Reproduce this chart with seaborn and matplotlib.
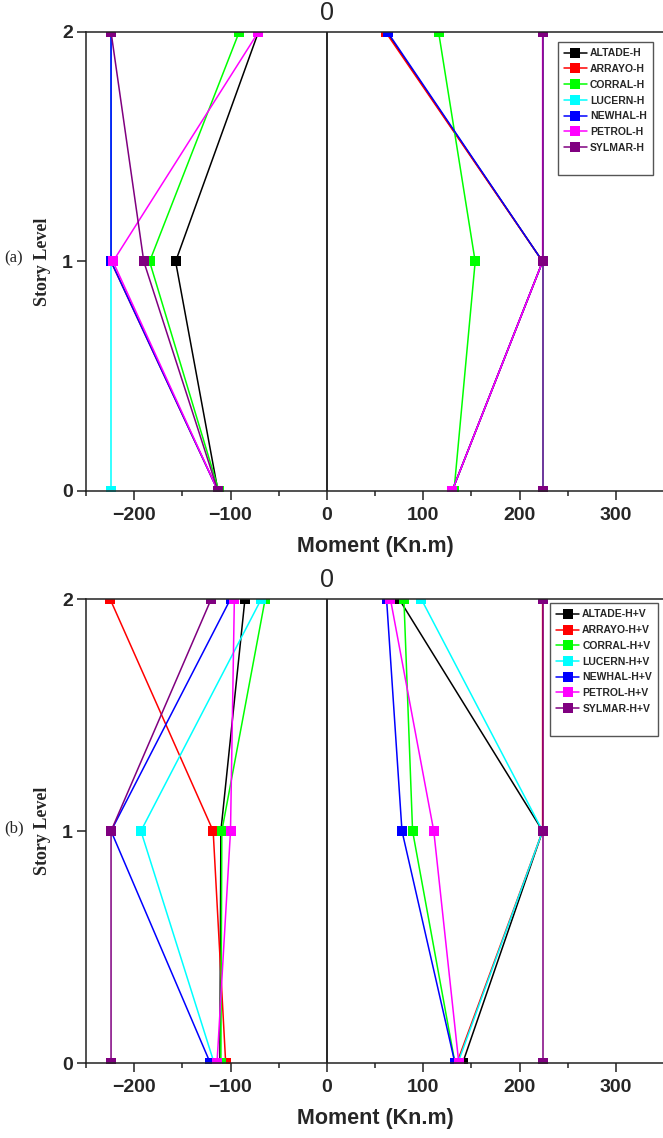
"""
楼层弯矩包络图：(a) 水平地震 H，(b) 水平+竖向地震 H+V
"""

import numpy as np
import pandas as pd
import matplotlib
matplotlib.use('Agg')
import matplotlib.pyplot as plt
from matplotlib.lines import Line2D
import seaborn as sns

sns.set_style('ticks')
plt.rcParams['font.family'] = ['Liberation Sans', 'DejaVu Sans']

LEVELS = [0, 1, 2]
RECORDS = ['ALTADE', 'ARRAYO', 'CORRAL', 'LUCERN', 'NEWHAL', 'PETROL', 'SYLMAR']
COLORS = ['#000000', '#ff0000', '#00ff00', '#00ffff', '#0000ff', '#ff00ff', '#800080']

# 负弯矩 / 正弯矩，每行对应 RECORDS，列为楼层 0,1,2
H_NEG = [[-113, -157, -71],
         [-113, -224, -224],
         [-112, -184, -91],
         [-224, -224, -224],
         [-113, -224, -224],
         [-113, -222, -71],
         [-113, -190, -224]]
H_POS = [[130, 224, 62],
         [130, 224, 61],
         [132, 154, 116],
         [224, 224, 224],
         [130, 224, 63],
         [130, 224, 224],
         [224, 224, 224]]

HV_NEG = [[-111, -110, -85],
          [-105, -118, -225],
          [-110, -109, -64],
          [-117, -193, -68],
          [-121, -224, -100],
          [-114, -100, -96],
          [-224, -224, -120]]
HV_POS = [[141, 224, 75],
          [135, 224, 224],
          [133, 89, 80],
          [136, 224, 98],
          [133, 78, 62],
          [137, 111, 66],
          [224, 224, 224]]


def draw_panel(ax, neg, pos, suffix, tag, tag_y, anchor):
    names = [r + suffix for r in RECORDS]
    rows = []
    for name, n, p in zip(names, neg, pos):
        for lv, v in zip(LEVELS, n):
            rows.append((name, 'neg', lv, v))
        for lv, v in zip(LEVELS, p):
            rows.append((name, 'pos', lv, v))
    df = pd.DataFrame(rows, columns=['record', 'side', 'level', 'moment'])

    ax.axvline(0, color='black', lw=1.2, zorder=1)
    sns.lineplot(data=df, x='moment', y='level', hue='record',
                 hue_order=names, palette=COLORS, units='side',
                 estimator=None, sort=False, marker='s', markersize=6.5,
                 markeredgewidth=0, linewidth=1.1, legend=False, ax=ax)

    ax.set_xlim(-250, 350)
    ax.set_ylim(0, 2)
    ax.set_xticks([-200, -100, 0, 100, 200, 300])
    ax.set_xticks(np.arange(-250, 351, 50), minor=True)
    ax.set_yticks(LEVELS)
    ax.tick_params(axis='both', which='major', direction='out', length=6.5,
                   width=1.1, labelsize=14, color='#222222')
    ax.tick_params(axis='x', which='major', pad=5)
    ax.tick_params(axis='y', which='major', pad=3)
    ax.tick_params(axis='x', which='minor', direction='out', length=3.6,
                   width=1.1, color='#222222')
    for lbl in ax.get_xticklabels() + ax.get_yticklabels():
        lbl.set_fontweight('bold')
    for sp in ax.spines.values():
        sp.set_visible(True)
        sp.set_linewidth(1.1)
        sp.set_color('#222222')

    ax.set_xlabel('Moment (Kn.m)', fontsize=15.5, fontweight='bold',
                  labelpad=9)
    ax.set_ylabel('Story Level', fontsize=13, fontweight='bold',
                  family='Liberation Serif', labelpad=8)
    ax.text(0, 1.015, '0', transform=ax.get_xaxis_transform(),
            ha='center', va='bottom', fontsize=18)
    ax.figure.text(14 / 663, tag_y, tag, family='Liberation Serif',
                   fontsize=12, ha='center', va='center')

    # 图例：最后加一个空行，留出框底部空白
    handles = [Line2D([], [], color=c, marker='s', markersize=6.5,
                      markeredgewidth=0, lw=1.1) for c in COLORS]
    handles.append(Line2D([], [], lw=0))
    labels = names + [' ']
    leg = ax.legend(handles, labels, loc='upper right',
                    bbox_to_anchor=anchor, frameon=True, fancybox=False,
                    edgecolor='#555555', framealpha=1,
                    prop={'weight': 'bold', 'size': 7.5},
                    handlelength=2.2, handletextpad=0.3,
                    labelspacing=0.55, borderpad=0.6, borderaxespad=0)
    leg.get_frame().set_linewidth(1.0)


fig = plt.figure(figsize=(6.63, 11.38), dpi=100)
ax_a = fig.add_axes([86 / 663, 1 - 491 / 1138, 578 / 663, 459 / 1138])
ax_b = fig.add_axes([86 / 663, 1 - 1063 / 1138, 578 / 663, 464 / 1138])

draw_panel(ax_a, H_NEG, H_POS, '-H', '(a)', 1 - 258 / 1138, (0.981, 0.978))
draw_panel(ax_b, HV_NEG, HV_POS, '-H+V', '(b)', 1 - 828 / 1138, (0.99, 0.991))

fig.savefig('out.png', dpi=100)
